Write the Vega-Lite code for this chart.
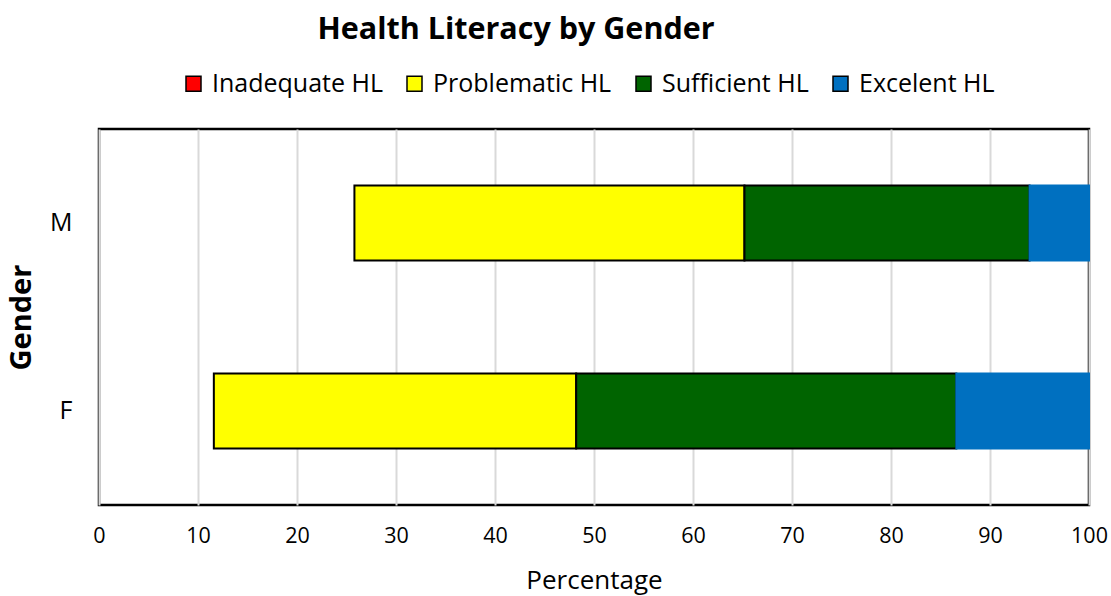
{
  "$schema": "https://vega.github.io/schema/vega-lite/v6.json",
  "width": 990,
  "height": 376,
  "autosize": {"type": "none"},
  "padding": {"left": 99, "top": 129, "right": 22, "bottom": 91},
  "background": "white",
  "title": {
    "text": "Health Literacy by Gender",
    "font": "Open Sans",
    "fontSize": 30.5,
    "fontWeight": "bold",
    "color": "black",
    "anchor": "middle",
    "dx": -78,
    "offset": 26
  },
  "data": {
    "values": [
      {"gender": "M", "level": "Inadequate HL", "ord": 1, "pct": 25.8},
      {"gender": "M", "level": "Problematic HL", "ord": 2, "pct": 39.4},
      {"gender": "M", "level": "Sufficient HL", "ord": 3, "pct": 28.8},
      {"gender": "M", "level": "Excelent HL", "ord": 4, "pct": 6.0},
      {"gender": "F", "level": "Inadequate HL", "ord": 1, "pct": 11.6},
      {"gender": "F", "level": "Problematic HL", "ord": 2, "pct": 36.6},
      {"gender": "F", "level": "Sufficient HL", "ord": 3, "pct": 38.4},
      {"gender": "F", "level": "Excelent HL", "ord": 4, "pct": 13.4}
    ]
  },
  "transform": [
    {"stack": "pct", "groupby": ["gender"], "sort": [{"field": "ord", "order": "ascending"}], "as": ["x0", "x1"]},
    {"filter": "datum.level !== 'Inadequate HL'"}
  ],
  "mark": {"type": "bar", "strokeWidth": 2, "opacity": 1},
  "encoding": {
    "y": {
      "field": "gender",
      "type": "nominal",
      "sort": ["M", "F"],
      "scale": {"paddingInner": 0.6, "paddingOuter": 0.3},
      "axis": {
        "title": "Gender",
        "titleFont": "Open Sans",
        "titleFontSize": 29,
        "titleFontWeight": "bold",
        "titleColor": "black",
        "titlePadding": 13,
        "labelFont": "Open Sans",
        "labelFontSize": 25,
        "labelColor": "black",
        "labelPadding": 27,
        "domain": false,
        "ticks": false,
        "grid": false
      }
    },
    "x": {
      "field": "x0",
      "type": "quantitative",
      "scale": {"domain": [0, 100], "nice": false},
      "axis": {
        "title": "Percentage",
        "values": [0, 10, 20, 30, 40, 50, 60, 70, 80, 90, 100],
        "titleFont": "Open Sans",
        "titleFontSize": 26,
        "titleFontWeight": "normal",
        "titleColor": "black",
        "titlePadding": 21,
        "labelFont": "Open Sans",
        "labelFontSize": 21.5,
        "labelColor": "black",
        "labelPadding": 20,
        "labelFlush": false,
        "domain": false,
        "ticks": false,
        "grid": true,
        "gridColor": "#d9d9d9",
        "gridWidth": 2
      }
    },
    "x2": {"field": "x1"},
    "color": {
      "field": "level",
      "type": "nominal",
      "scale": {
        "domain": ["Inadequate HL", "Problematic HL", "Sufficient HL", "Excelent HL"],
        "range": ["#ff0000", "#ffff00", "#006400", "#0070c0"]
      },
      "legend": {
        "title": null,
        "orient": "none",
        "direction": "horizontal",
        "legendX": 82,
        "legendY": -58,
        "labelFont": "Open Sans",
        "labelFontSize": 25,
        "labelColor": "black",
        "labelLimit": 400,
        "symbolType": "square",
        "symbolSize": 225,
        "symbolStrokeColor": "black",
        "symbolStrokeWidth": 1.5,
        "symbolOpacity": 1,
        "columnPadding": 19,
        "labelOffset": 6
      }
    },
    "stroke": {
      "field": "level",
      "type": "nominal",
      "scale": {
        "domain": ["Problematic HL", "Sufficient HL", "Excelent HL"],
        "range": ["#000000", "#000000", "#0070c0"]
      },
      "legend": null
    }
  },
  "config": {
    "view": {"stroke": "black", "strokeWidth": 2.5}
  }
}
